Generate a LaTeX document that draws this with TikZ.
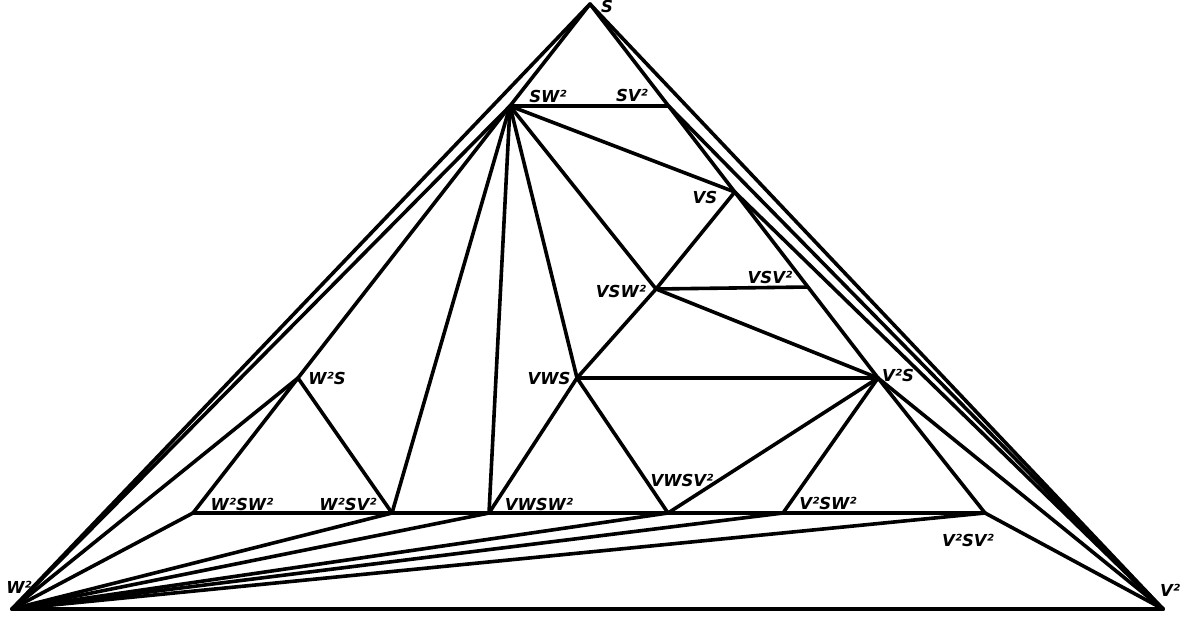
\documentclass[tikz,border=0pt]{standalone}
\usepackage{fontspec}
\setsansfont{DejaVu Sans}
\usetikzlibrary{calc}
\begin{document}
\begin{tikzpicture}[x=1pt,y=-1pt,
  edge/.style={line width=3.6pt,line join=round,line cap=round},
  lab/.style={font=\sffamily\bfseries\itshape\fontsize{16.5}{16.5}\selectfont,inner sep=0pt}]
\useasboundingbox (0,0) rectangle (1185,619);
% vertices
\coordinate (S) at (590,4);
\coordinate (W2) at (12,609);
\coordinate (V2) at (1163,609);
\coordinate (SW2) at (510,106);
\coordinate (V2S) at (878,378);
\coordinate (SV2) at ($(S)!0.2727!(V2S)$);
\coordinate (VS) at ($(S)!0.5027!(V2S)$);
\coordinate (VSV2) at ($(S)!0.7567!(V2S)$);
\coordinate (VSW2) at (656,289);
\coordinate (VWS) at (577,378);
\coordinate (W2S) at (298,378);
\coordinate (W2SW2) at (193,513);
\coordinate (W2SV2) at (392,513);
\coordinate (VWSW2) at (489,513);
\coordinate (VWSV2) at (668,513);
\coordinate (V2SW2) at (783,513);
\coordinate (V2SV2) at (985,513);
% edges
\draw[edge] (S) -- (W2);
\draw[edge] (S) -- (SW2);
\draw[edge] (S) -- (V2);
\draw[edge] (S) -- (SV2) -- (VS) -- (VSV2) -- (V2S);
\draw[edge] (W2) -- (V2);
\draw[edge] (SW2) -- (SV2);
\draw[edge] (SW2) -- (VS);
\draw[edge] (SW2) -- (VSW2);
\draw[edge] (SW2) -- (VWS);
\draw[edge] (SW2) -- (VWSW2);
\draw[edge] (SW2) -- (W2SV2);
\draw[edge] (SW2) -- (W2S);
\draw[edge] (SW2) -- (W2);
\draw[edge] (SV2) -- (V2);
\draw[edge] (VS) -- (V2);
\draw[edge] (V2S) -- (V2);
\draw[edge] (V2SV2) -- (V2);
\draw[edge] (VS) -- (VSW2);
\draw[edge] (VSW2) -- (VSV2);
\draw[edge] (VSW2) -- (V2S);
\draw[edge] (VSW2) -- (VWS);
\draw[edge] (VWS) -- (V2S);
\draw[edge] (VWS) -- (VWSW2);
\draw[edge] (VWS) -- (VWSV2);
\draw[edge] (VWSV2) -- (V2S);
\draw[edge] (V2SW2) -- (V2S);
\draw[edge] (V2SV2) -- (V2S);
\draw[edge] (W2S) -- (W2);
\draw[edge] (W2S) -- (W2SW2);
\draw[edge] (W2S) -- (W2SV2);
\draw[edge] (W2SW2) -- (W2SV2) -- (VWSW2) -- (VWSV2) -- (V2SW2) -- (V2SV2);
\draw[edge] (W2) -- (W2SW2);
\draw[edge] (W2) -- (W2SV2);
\draw[edge] (W2) -- (VWSW2);
\draw[edge] (W2) -- (VWSV2);
\draw[edge] (W2) -- (V2SW2);
\draw[edge] (W2) -- (V2SV2);
% labels
\node[lab] (lS) at (607,6) {S};
\node[lab] (lSW2) at (548,96) {SW²};
\node[lab] (lSV2) at (632,95) {SV²};
\node[lab] (lVS) at (705,197) {VS};
\node[lab] (lVSW2) at (621,291) {VSW²};
\node[lab] (lVSV2) at (770,277) {VSV²};
\node[lab] (lVWS) at (549,378) {VWS};
\node[lab] (lV2S) at (898,375) {V²S};
\node[lab] (lW2S) at (327,378) {W²S};
\node[lab] (lW2SW2) at (242,504) {W²SW²};
\node[lab] (lW2SV2) at (348,504) {W²SV²};
\node[lab] (lVWSW2) at (539,504) {VWSW²};
\node[lab] (lVWSV2) at (682,480) {VWSV²};
\node[lab] (lV2SW2) at (828,503) {V²SW²};
\node[lab] (lV2SV2) at (968,540) {V²SV²};
\node[lab] (lW2) at (19,587) {W²};
\node[lab] (lV2) at (1170,590) {V²};
\end{tikzpicture}
\end{document}
